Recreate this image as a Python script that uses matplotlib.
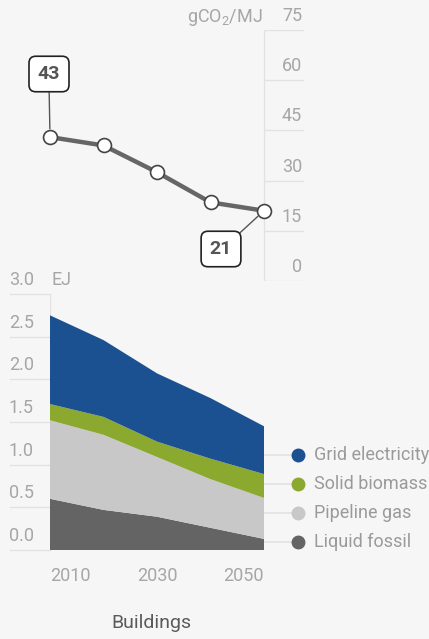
import matplotlib
matplotlib.use("Agg")
import matplotlib.pyplot as plt
from matplotlib.transforms import blended_transform_factory
from matplotlib import font_manager

# Data
years = [2010, 2020, 2030, 2040, 2050]
intensity = [43, 40.5, 32.5, 23.5, 21]          # gCO2/MJ
intensity_ticks = [0, 15, 30, 45, 60, 75]

categories = ["Grid electricity", "Solid biomass", "Pipeline gas", "Liquid fossil"]
liquid_fossil = [0.60, 0.47, 0.39, 0.26, 0.13]   # EJ
pipeline_gas = [0.92, 0.88, 0.70, 0.57, 0.48]
solid_biomass = [0.19, 0.21, 0.18, 0.24, 0.28]
grid_electricity = [1.04, 0.90, 0.80, 0.71, 0.56]
energy_ticks = [0.0, 0.5, 1.0, 1.5, 2.0, 2.5, 3.0]
year_labels = ["2010", "2030", "2050"]

available = {f.name for f in font_manager.fontManager.ttflist}
family = [f for f in ["Liberation Sans Narrow", "Roboto", "DejaVu Sans"] if f in available]
plt.rcParams["font.family"] = family

BG = "#f6f6f6"
GRID = "#e2e2e2"
TICK = "#a6a6a6"
LINE = "#666666"
colors = {"Grid electricity": "#1b5190", "Solid biomass": "#8ba82f",
          "Pipeline gas": "#c8c8c8", "Liquid fossil": "#646464"}

W, H = 429, 639
fig = plt.figure(figsize=(W / 100, H / 100), dpi=100, facecolor=BG)

def px_axes(x0, y0, x1, y1):
    return fig.add_axes([x0 / W, 1 - y1 / H, (x1 - x0) / W, (y1 - y0) / H])

# ---------- Emission intensity line ----------
ax1 = px_axes(50, 30, 304, 281)
ax1.set_facecolor("none")
x_end = 2010 + 40 * 254 / 214
ax1.set_xlim(2010, x_end)
ax1.set_ylim(0, 75)
ax1.axis("off")

ax1.hlines(intensity_ticks, 2050, x_end, color=GRID, lw=1, zorder=1)
ax1.vlines(2050, 0, 75, color=GRID, lw=1, zorder=1)
for v in intensity_ticks:
    ax1.annotate(f"{v}", xy=(x_end, v), xytext=(-2, 14), textcoords="offset pixels",
                 ha="right", va="center", color=TICK, fontsize=13)
ax1.annotate("gCO$_{\\mathregular{2}}$/MJ", xy=(2050, 75), xytext=(-1, 13),
             textcoords="offset pixels", ha="right", va="center", color=TICK, fontsize=13)

ax1.plot(years, intensity, color=LINE, lw=3.2, zorder=3, clip_on=False,
         marker="o", ms=10, mfc="white", mec="#444444", mew=1.2)

box = dict(boxstyle="round,pad=0.45,rounding_size=0.35", fc="white", ec="#222222", lw=1.2)
ax1.annotate(f"{intensity[0]:.0f}", xy=(years[0], intensity[0]), xytext=(49, H - 74),
             textcoords="figure pixels", ha="center", va="center", fontsize=14,
             fontweight="bold", color="#555555", bbox=box, zorder=4,
             arrowprops=dict(arrowstyle="-", color="#555555", lw=1,
                             relpos=(0.5, 0), shrinkA=0, shrinkB=6))
ax1.annotate(f"{intensity[-1]:.0f}", xy=(years[-1], intensity[-1]), xytext=(221, H - 249),
             textcoords="figure pixels", ha="center", va="center", fontsize=14,
             fontweight="bold", color="#555555", bbox=box, zorder=4,
             arrowprops=dict(arrowstyle="-", color="#555555", lw=1,
                             relpos=(1, 1), shrinkA=0, shrinkB=6))

# ---------- Final energy demand, stacked ----------
ax2 = px_axes(50, 294, 264, 550)
ax2.set_facecolor("none")
ax2.set_xlim(2010, 2050)
ax2.set_ylim(0, 3)
ax2.axis("off")

trans = blended_transform_factory(ax2.transAxes, ax2.transData)
for v in energy_ticks:
    ax2.plot([-40 / 214, 0], [v, v], color=GRID, lw=1, transform=trans, clip_on=False)
    ax2.annotate(f"{v:.1f}", xy=(-41 / 214, v), xycoords=trans, xytext=(0, 14),
                 textcoords="offset pixels", ha="left", va="center", color=TICK, fontsize=13)
ax2.annotate("EJ", xy=(2010, 3.0), xytext=(1, 14), textcoords="offset pixels",
             ha="left", va="center", color=TICK, fontsize=13)
ax2.axvline(2010, color=GRID, lw=1, zorder=0)

stack = [liquid_fossil, pipeline_gas, solid_biomass, grid_electricity]
order = ["Liquid fossil", "Pipeline gas", "Solid biomass", "Grid electricity"]
ax2.stackplot(years, *stack, colors=[colors[c] for c in order], lw=0, zorder=2)

xtrans = blended_transform_factory(ax2.transData, ax2.transAxes)
aligns = ["left", "center", "right"]
for lab, ha in zip(year_labels, aligns):
    ax2.annotate(lab, xy=(int(lab), 0), xycoords=xtrans, xytext=(0, -26),
                 textcoords="offset pixels", ha=ha, va="center", color=TICK, fontsize=13)

# Legend
leg_y0, leg_step = 0.371, 0.1133
for i, c in enumerate(categories):
    y = leg_y0 - i * leg_step
    ax2.plot([1.0, (298 - 50) / 214], [y, y], color=GRID, lw=1.2,
             transform=ax2.transAxes, clip_on=False, zorder=1)
    ax2.plot([(298 - 50) / 214], [y], "o", ms=9, color=colors[c],
             transform=ax2.transAxes, clip_on=False, zorder=3)
    ax2.text((314 - 50) / 214, y, c, transform=ax2.transAxes, ha="left", va="center",
             color="#9a9a9a", fontsize=13)

fig.text(151 / W, 1 - 623 / H, "Buildings", ha="center", va="center",
         color="#5a5a5a", fontsize=14)

fig.savefig("out.png", dpi=100, facecolor=BG)
